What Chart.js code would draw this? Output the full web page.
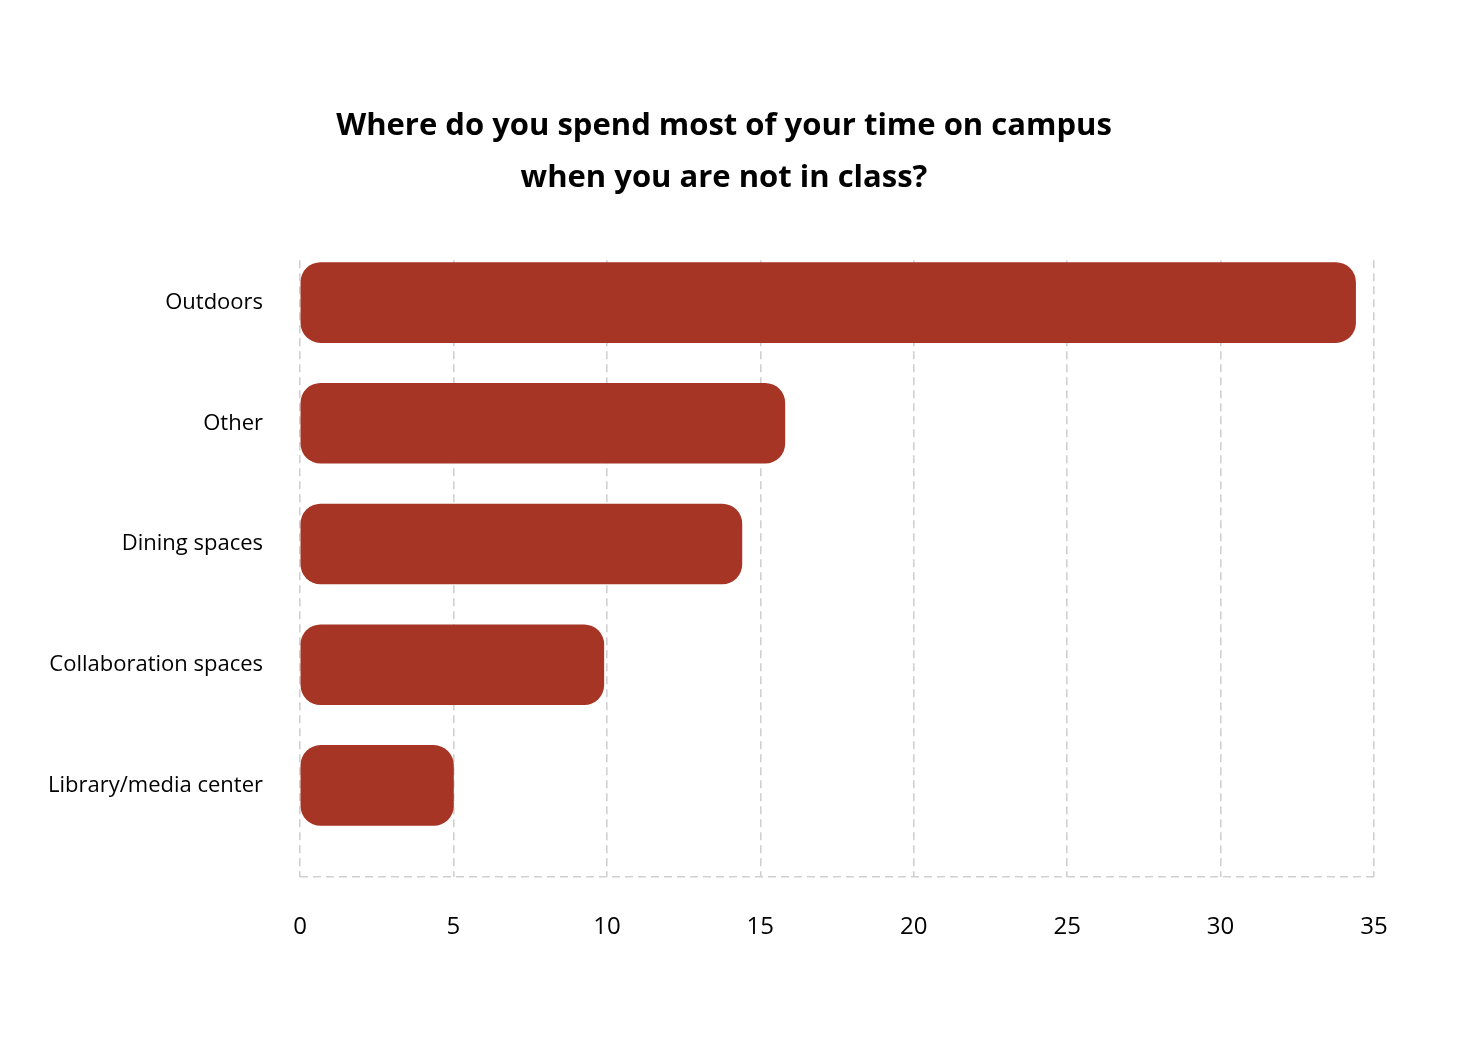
<!DOCTYPE html>
<html>
<head>
<meta charset="utf-8">
<script src="https://cdn.jsdelivr.net/npm/chart.js@4"></script>
<style>
  html, body { margin: 0; padding: 0; background: #fff; }
  #wrap { width: 1458px; height: 1042px; }
</style>
</head>
<body>
<div id="wrap"><canvas id="chart"></canvas></div>
<script>
const categories = ["Outdoors", "Other", "Dining spaces", "Collaboration spaces", "Library/media center"];
const values = [34.4, 15.8, 14.4, 9.9, 5.0];
const xTicks = [0, 5, 10, 15, 20, 25, 30, 35];
const titleLines = ["Where do you spend most of your time on campus", "when you are not in class?"];

const FONT = "'Open Sans', Lato, sans-serif";
const GRID = "#d0d0d0";
const Y_MIN = -0.35, Y_MAX = 4.76;

// nudge the title so it sits centred on the page rather than between the paddings
const titleShift = {
  id: "titleShift",
  afterLayout: c => {
    if (c.titleBlock) { c.titleBlock.left = 0; c.titleBlock.right = c.width - 10; }
  }
};

const ctx = document.getElementById("chart").getContext("2d");
new Chart(ctx, {
  type: "bar",
  data: {
    datasets: [{
      data: values.map((v, i) => ({ x: v, y: i })),
      backgroundColor: "#a63526",
      borderRadius: 20,
      borderSkipped: false,
      barThickness: 80
    }]
  },
  options: {
    indexAxis: "y",
    responsive: true,
    maintainAspectRatio: false,
    animation: false,
    layout: { padding: { left: 11, right: 84, top: 0, bottom: 64 } },
    plugins: {
      legend: { display: false },
      tooltip: { enabled: false },
      title: {
        display: true,
        text: titleLines,
        color: "#000",
        font: { family: FONT, size: 31, weight: "bold", lineHeight: 1.65 },
        padding: { top: 101, bottom: 57 }
      }
    },
    scales: {
      x: {
        type: "linear",
        min: 0,
        max: 35,
        afterBuildTicks: s => { s.ticks = xTicks.map(v => ({ value: v })); },
        grid: { color: GRID, lineWidth: 1.6, drawTicks: false },
        border: { display: false, dash: [8, 5] },
        ticks: { color: "#000", font: { family: FONT, size: 24 }, padding: 36 }
      },
      y: {
        type: "linear",
        reverse: true,
        offset: false,
        bounds: "data",
        min: Y_MIN,
        max: Y_MAX,
        afterBuildTicks: s => {
          s.ticks = categories.map((c, i) => ({ value: i })).concat([{ value: Y_MAX }]);
        },
        grid: {
          offset: false,
          drawTicks: false,
          lineWidth: 1.6,
          color: c => (c.tick && c.tick.value === Y_MAX) ? GRID : "rgba(0,0,0,0)"
        },
        border: { display: false, dash: [8, 5] },
        ticks: {
          color: "#000",
          font: { family: FONT, size: 22 },
          padding: 37,
          callback: v => categories[v] || ""
        }
      }
    }
  },
  plugins: [titleShift]
});
</script>
</body>
</html>
